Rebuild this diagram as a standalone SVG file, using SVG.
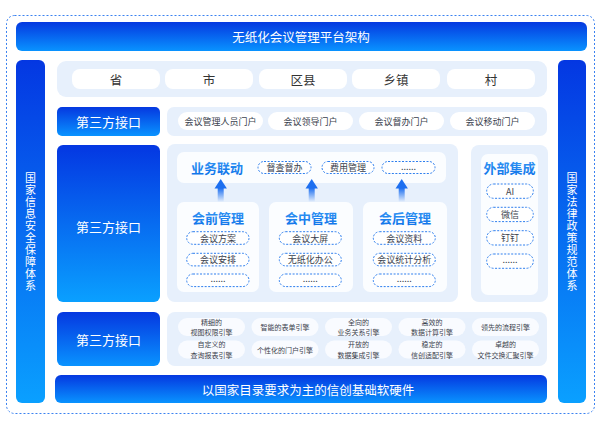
<svg xmlns="http://www.w3.org/2000/svg" width="605" height="428" viewBox="0 0 605 428">
<defs>
<linearGradient id="gv" x1="0" y1="0" x2="0" y2="1"><stop offset="0" stop-color="#0437e2"/><stop offset="1" stop-color="#0aa0ff"/></linearGradient>
<linearGradient id="gh" x1="0" y1="0" x2="0" y2="1"><stop offset="0" stop-color="#0538e0"/><stop offset="1" stop-color="#0993ff"/></linearGradient>
<linearGradient id="ga" x1="0" y1="0" x2="0" y2="1"><stop offset="0" stop-color="#1d6ff0"/><stop offset="1" stop-color="#1d6ff0" stop-opacity="0"/></linearGradient>
<linearGradient id="gt" x1="0" y1="0" x2="0" y2="1"><stop offset="0" stop-color="#3a9cf6"/><stop offset="1" stop-color="#0c70e8"/></linearGradient>
</defs>
<style>
text{font-family:"Noto Sans CJK SC","Noto Sans",sans-serif;text-anchor:middle;dominant-baseline:central}
.w{fill:#fff}
.v{fill:#fff;font-size:11px;writing-mode:vertical-rl;text-anchor:start;letter-spacing:1px}
.bar{fill:url(#gh)}
.col{fill:url(#gv)}
.lt{fill:#e7f0fc}
.wh{fill:#fbfdff}
.lv{fill:#333;font-size:12.5px}
.sm{fill:#3a3f4d;font-size:9px}
.xs{fill:#3a3f4d;font-size:7px}
.ttl{fill:url(#gt);font-size:13px;font-weight:bold}
.pill{fill:#fff;stroke:#2f7fee;stroke-width:1;stroke-dasharray:2 1.5}
.ep{fill:#f9fbff}
.ar{fill:#1d6ff0}
</style>
<rect x="6.5" y="15.5" width="588" height="398" rx="8" fill="none" stroke="#3b82f0" stroke-width="1" stroke-dasharray="2 2"/>

<g id="top">
<rect class="bar" x="16" y="22" width="571" height="29" rx="6"/>
<text class="w" x="301" y="36.5" font-size="12.5">无纸化会议管理平台架构</text>
</g>

<g id="left-col">
<rect class="col" x="16" y="60" width="29" height="343" rx="6"/>
<text class="v" x="30.5" y="172">国家信息安全保障体系</text>
</g>

<g id="right-col">
<rect class="col" x="558" y="60" width="28" height="343" rx="6"/>
<text class="v" x="572" y="172">国家法律政策规范体系</text>
</g>

<g id="levels">
<rect class="lt" x="57" y="61" width="490" height="36" rx="9"/>
<rect fill="#fff" x="72" y="69" width="88" height="20" rx="8"/>
<rect fill="#fff" x="165" y="69" width="88" height="20" rx="8"/>
<rect fill="#fff" x="259" y="69" width="88" height="20" rx="8"/>
<rect fill="#fff" x="352" y="69" width="88" height="20" rx="8"/>
<rect fill="#fff" x="447" y="69" width="88" height="20" rx="8"/>
<text class="lv" x="116" y="79">省</text>
<text class="lv" x="209" y="79">市</text>
<text class="lv" x="303" y="79">区县</text>
<text class="lv" x="396" y="79">乡镇</text>
<text class="lv" x="491" y="79">村</text>
</g>

<g id="portal-row">
<rect class="bar" x="57" y="107" width="103" height="29" rx="5"/>
<text class="w" x="108.5" y="121.5" font-size="13">第三方接口</text>
<rect class="lt" x="167" y="107" width="380" height="29" rx="7"/>
<rect fill="#fff" x="178" y="112" width="85" height="18" rx="9"/>
<rect fill="#fff" x="268" y="112" width="85" height="18" rx="9"/>
<rect fill="#fff" x="359" y="112" width="85" height="18" rx="9"/>
<rect fill="#fff" x="450" y="112" width="85" height="18" rx="9"/>
<text class="sm" x="220.5" y="121">会议管理人员门户</text>
<text class="sm" x="310.5" y="121">会议领导门户</text>
<text class="sm" x="401.5" y="121">会议督办门户</text>
<text class="sm" x="492.5" y="121">会议移动门户</text>
</g>

<g id="mid-iface">
<rect class="col" x="57" y="145" width="103" height="157" rx="6"/>
<text class="w" x="108.5" y="226" font-size="13">第三方接口</text>
</g>

<g id="business">
<rect class="lt" x="167" y="144" width="291" height="158" rx="8"/>
<rect class="wh" x="177" y="152" width="269" height="31" rx="7"/>
<text class="ttl" x="217" y="167">业务联动</text>
<rect class="pill" x="258" y="161.5" width="53" height="12" rx="6"/>
<rect class="pill" x="322" y="161.5" width="52" height="12" rx="6"/>
<rect class="pill" x="382" y="161.5" width="53" height="12" rx="6"/>
<text class="sm" x="284.5" y="167.5">督查督办</text>
<text class="sm" x="348" y="167.5">费用管理</text>
<text class="sm" x="408.5" y="166">......</text>
</g>

<g id="connectors">
<polygon class="ar" points="214.5,188.5 220.7,179 226.9,188.5"/>
<rect fill="url(#ga)" x="217.7" y="188" width="6" height="14"/>
<polygon class="ar" points="305.5,188.5 311.7,179 317.9,188.5"/>
<rect fill="url(#ga)" x="308.7" y="188" width="6" height="14"/>
<polygon class="ar" points="395.5,188.5 401.7,179 407.9,188.5"/>
<rect fill="url(#ga)" x="398.7" y="188" width="6" height="14"/>
</g>

<g id="pre">
<rect class="wh" x="177" y="202" width="82" height="90" rx="7"/>
<text class="ttl" x="218" y="217.5">会前管理</text>
<rect class="pill" x="186.7" y="231.7" width="62.3" height="12.6" rx="6.3"/>
<rect class="pill" x="186.7" y="253.3" width="62.3" height="12.6" rx="6.3"/>
<rect class="pill" x="186.7" y="274" width="62.3" height="12.6" rx="6.3"/>
<text class="sm" x="218" y="238">会议方案</text>
<text class="sm" x="218" y="259.6">会议安排</text>
<text class="sm" x="218" y="278.5">......</text>
</g>

<g id="mid">
<rect class="wh" x="269" y="202" width="84" height="90" rx="7"/>
<text class="ttl" x="311" y="217.5">会中管理</text>
<rect class="pill" x="279.3" y="231.7" width="62" height="12.6" rx="6.3"/>
<rect class="pill" x="279.3" y="253.3" width="62" height="12.6" rx="6.3"/>
<rect class="pill" x="279.3" y="274" width="62" height="12.6" rx="6.3"/>
<text class="sm" x="310.3" y="238">会议大屏</text>
<text class="sm" x="310.3" y="259.6">无纸化办公</text>
<text class="sm" x="310.3" y="278.5">......</text>
</g>

<g id="post">
<rect class="wh" x="363" y="202" width="84" height="90" rx="7"/>
<text class="ttl" x="405" y="217.5">会后管理</text>
<rect class="pill" x="373.3" y="231.7" width="62" height="12.6" rx="6.3"/>
<rect class="pill" x="373.3" y="253.3" width="62" height="12.6" rx="6.3"/>
<rect class="pill" x="373.3" y="274" width="62" height="12.6" rx="6.3"/>
<text class="sm" x="404.3" y="238">会议资料</text>
<text class="sm" x="404.3" y="259.6">会议统计分析</text>
<text class="sm" x="404.3" y="278.5">......</text>
</g>

<g id="external">
<rect class="lt" x="471" y="145" width="77" height="157" rx="8"/>
<rect class="wh" x="481" y="154" width="57" height="141" rx="7"/>
<text class="ttl" x="509.5" y="167.5">外部集成</text>
<rect class="pill" x="486.7" y="184" width="46.6" height="14.3" rx="7"/>
<rect class="pill" x="486.7" y="207.3" width="46.6" height="14.3" rx="7"/>
<rect class="pill" x="486.7" y="230.7" width="46.6" height="14.3" rx="7"/>
<rect class="pill" x="486.7" y="254" width="46.6" height="14.3" rx="7"/>
<text class="sm" x="510" y="191.2">AI</text>
<text class="sm" x="510" y="214.5">微信</text>
<text class="sm" x="510" y="237.9">钉钉</text>
<text class="sm" x="510" y="259.5">......</text>
</g>

<g id="bottom-iface">
<rect class="bar" x="57" y="312" width="103" height="54" rx="6"/>
<text class="w" x="108.5" y="339" font-size="13">第三方接口</text>
</g>

<g id="engines">
<rect class="lt" x="167" y="312" width="380" height="54" rx="8"/>
<rect class="ep" x="178" y="318" width="67" height="18" rx="9"/>
<rect class="ep" x="251.5" y="318" width="67" height="18" rx="9"/>
<rect class="ep" x="325" y="318" width="67" height="18" rx="9"/>
<rect class="ep" x="398.5" y="318" width="67" height="18" rx="9"/>
<rect class="ep" x="472" y="318" width="67" height="18" rx="9"/>
<rect class="ep" x="178" y="340.5" width="67" height="18" rx="9"/>
<rect class="ep" x="251.5" y="340.5" width="67" height="18" rx="9"/>
<rect class="ep" x="325" y="340.5" width="67" height="18" rx="9"/>
<rect class="ep" x="398.5" y="340.5" width="67" height="18" rx="9"/>
<rect class="ep" x="472" y="340.5" width="67" height="18" rx="9"/>
<text class="xs"><tspan x="211.5" y="321.9">精细的</tspan><tspan x="211.5" y="332.2">视图权限引擎</tspan></text>
<text class="xs" x="285" y="327">智能的表单引擎</text>
<text class="xs"><tspan x="358.5" y="321.9">全向的</tspan><tspan x="358.5" y="332.2">业务关系引擎</tspan></text>
<text class="xs"><tspan x="432" y="321.9">高效的</tspan><tspan x="432" y="332.2">数据计算引擎</tspan></text>
<text class="xs" x="505.5" y="327">领先的流程引擎</text>
<text class="xs"><tspan x="211.5" y="344.4">自定义的</tspan><tspan x="211.5" y="354.7">查询报表引擎</tspan></text>
<text class="xs" x="285" y="349.5">个性化的门户引擎</text>
<text class="xs"><tspan x="358.5" y="344.4">开放的</tspan><tspan x="358.5" y="354.7">数据集成引擎</tspan></text>
<text class="xs"><tspan x="432" y="344.4">稳定的</tspan><tspan x="432" y="354.7">信创适配引擎</tspan></text>
<text class="xs"><tspan x="505.5" y="344.4">卓越的</tspan><tspan x="505.5" y="354.7">文件交换汇聚引擎</tspan></text>
</g>

<g id="base">
<rect class="bar" x="55" y="375" width="492" height="28" rx="6"/>
<text class="w" x="308" y="389" font-size="12.5">以国家目录要求为主的信创基础软硬件</text>
</g>
</svg>
